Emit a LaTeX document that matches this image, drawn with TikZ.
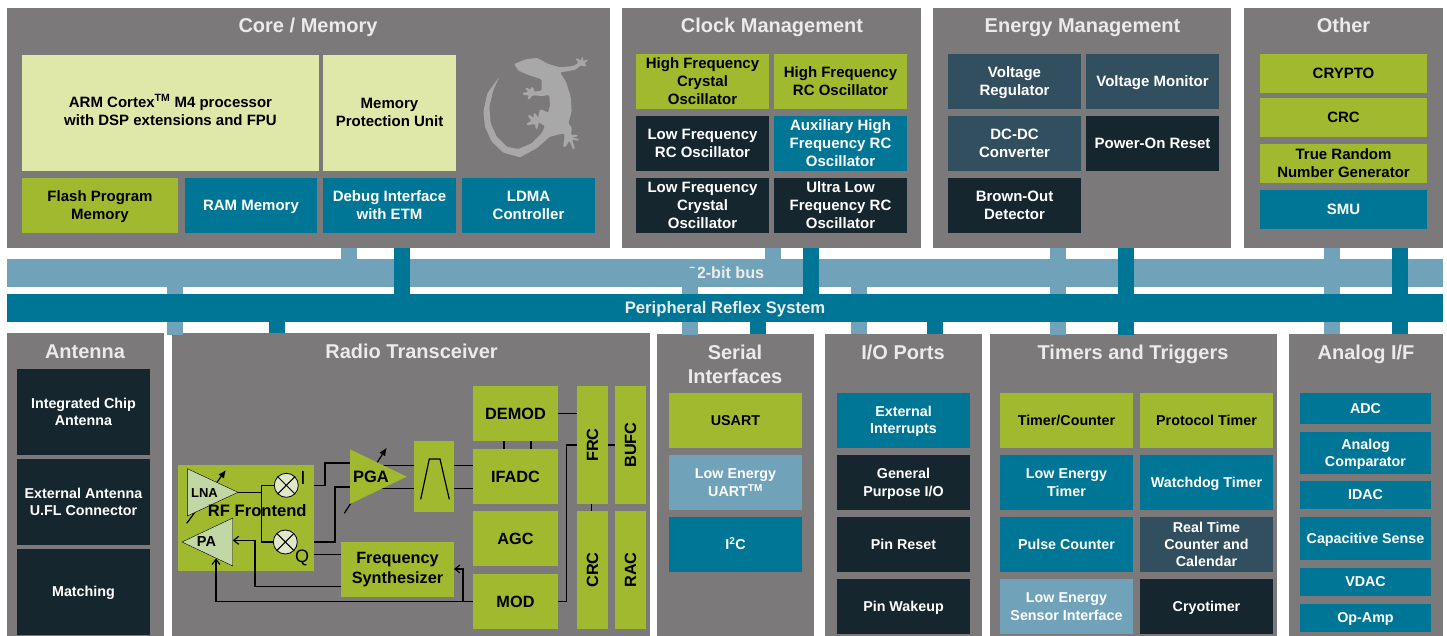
\documentclass[tikz,border=0pt]{standalone}
\usepackage{fontspec}
\setmainfont{Liberation Sans}
\usetikzlibrary{arrows.meta,calc}
\definecolor{panelgrey}{HTML}{7B797A}
\definecolor{olive}{HTML}{A1B92E}
\definecolor{pale}{HTML}{DFE8A9}
\definecolor{teal}{HTML}{007696}
\definecolor{ltblue}{HTML}{70A3B9}
\definecolor{darkb}{HTML}{16262F}
\definecolor{slate}{HTML}{324F5F}
\definecolor{gecko}{HTML}{A8A8A8}
\definecolor{tri}{HTML}{C3D6A5}
\definecolor{mix}{HTML}{DFE8C8}
\def\bxs{15}
\tikzset{
  boxfont/.style={font=\fontsize{\bxs}{18}\selectfont\bfseries,align=center,inner sep=0pt,outer sep=0pt},
  tight/.style={font=\fontsize{\bxs}{17}\selectfont\bfseries},
  panel/.style={fill=panelgrey},
  polive/.style={boxfont,fill=olive,text=black},
  ppale/.style={boxfont,fill=pale,text=black},
  pteal/.style={boxfont,fill=teal,text=white},
  pblue/.style={boxfont,fill=ltblue,text=white},
  pdark/.style={boxfont,fill=darkb,text=white},
  pslate/.style={boxfont,fill=slate,text=white},
  ptext/.style={boxfont,text=black},
  title/.style={font=\fontsize{20}{24}\selectfont\bfseries,text=white!92!black,align=center,inner sep=0pt},
  stubl/.style={ltblue,line width=16pt},
  stubd/.style={teal,line width=16pt},
  wire/.style={black,line width=1.2pt},
  arr/.style={wire,-{Straight Barb[length=5pt,width=8pt]}},
  varr/.style={black,line width=1.2pt,-{Latex[length=8pt,width=7pt]}},
  radiofont/.style={font=\fontsize{16.3}{20}\selectfont\bfseries},
}
\newcommand{\mystrut}{\leavevmode\vrule height .79\baselineskip depth .21\baselineskip width 0pt\relax}
\newcommand{\bx}[7]{%
  \pgfmathsetmacro{\bxw}{#4-#2}\pgfmathsetmacro{\bxh}{#5-#3}%
  \node[#6,minimum width=\bxw pt,minimum height=\bxh pt] (#1) at ({(#2+#4)/2},{(#3+#5)/2}) {\mystrut #7\mystrut};}
\newcommand{\bxn}[7]{%
  \pgfmathsetmacro{\bxw}{#4-#2}\pgfmathsetmacro{\bxh}{#5-#3}%
  \node[#6,minimum width=\bxw pt,minimum height=\bxh pt] (#1) at ({(#2+#4)/2},{(#3+#5)/2}) {#7};}
\newcommand{\pn}[5]{%
  \pgfmathsetmacro{\bxw}{#4-#2}\pgfmathsetmacro{\bxh}{#5-#3}%
  \node[panel,inner sep=0pt,outer sep=0pt,minimum width=\bxw pt,minimum height=\bxh pt] (#1) at ({(#2+#4)/2},{(#3+#5)/2}) {};}
\begin{document}
\begin{tikzpicture}[x=1pt,y=-1pt]
\useasboundingbox (0,0) rectangle (1447,636);
% bars
\bxn{bus}{7}{259}{1443}{286.5}{pblue}{}
\node[title,font=\fontsize{16.2}{18}\selectfont\bfseries,anchor=base] (bustext) at (726,278) {32-bit bus};
% panels
\pn{core}{7}{8}{610}{248}
\pn{clock}{622}{8}{921}{248}
\pn{energy}{933}{8}{1231}{248}
\pn{other}{1244}{8}{1443}{248}
\pn{ant}{7}{333}{164}{636}
\pn{radio}{172}{333}{650}{636}
\pn{serial}{657}{334}{814}{636}
\pn{io}{825}{334}{982}{636}
\pn{timers}{990}{334}{1277}{636}
\pn{analog}{1289}{334}{1443}{636}
% light stubs from top panels to bus
\draw[stubl] (349,0 |- core.south) -- (349,0 |- bus.north);
\draw[stubl] (773,0 |- clock.south) -- (773,0 |- bus.north);
\draw[stubl] (1058,0 |- energy.south) -- (1058,0 |- bus.north);
\draw[stubl] (1332,0 |- other.south) -- (1332,0 |- bus.north);
% light stubs from bus to bottom panels
\draw[stubl] (175,0 |- bus.south) -- (175,335);
\draw[stubl] (690,268) -- (690,335);
\draw[stubl] (859,0 |- bus.south) -- (859,0 |- io.north);
\draw[stubl] (1058,0 |- bus.south) -- (1058,335);
\draw[stubl] (1332,0 |- bus.south) -- (1332,0 |- analog.north);
% peripheral reflex bar over the light stubs
\bxn{prs}{7}{294}{1443}{322}{pteal}{}
% dark stubs
\draw[stubd] (402,0 |- core.south) -- (402,0 |- prs.north);
\draw[stubd] (811,0 |- clock.south) -- (811,0 |- prs.north);
\draw[stubd] (1126,0 |- energy.south) -- (1126,335);
\draw[stubd] (1400,0 |- other.south) -- (1400,0 |- analog.north);
\draw[stubd] (277,0 |- prs.south) -- (277,0 |- radio.north);
\draw[stubd] (758,0 |- prs.south) -- (758,0 |- serial.north);
\draw[stubd] (935,0 |- prs.south) -- (935,0 |- io.north);
\node[title,font=\fontsize{16.7}{18}\selectfont\bfseries,anchor=base] (prstext) at (725,313) {Peripheral Reflex System};
% titles
\tikzset{ttl/.style={title,anchor=base}}
\node[ttl] (t1) at (308,32.5) {Core / Memory};
\node[ttl] (t2) at (772,32.5) {Clock Management};
\node[ttl] (t3) at (1082.5,32.5) {Energy Management};
\node[ttl] (t4) at (1343.5,32.5) {Other};
\node[ttl] (t5) at (85,358) {Antenna};
\node[ttl] (t6) at (411.5,358) {Radio Transceiver};
\node[title] (t7) at (735,364) {Serial\\[0pt]Interfaces};
\node[ttl] (t8) at (903,359) {I/O Ports};
\node[ttl] (t9) at (1133,359) {Timers and Triggers};
\node[ttl] (t10) at (1366,359) {Analog I/F};
% gecko
\begin{scope}[shift={(460,40)},x=0.3333pt,y=-0.3333pt]
\fill[gecko,rounded corners=1.2pt] (162,72) -- (200,57) -- (232,54) -- (265,72) -- (300,82) -- (340,78) -- (356,68)
 -- (346,56) -- (352,54) -- (362,64) -- (366,50) -- (370,52) -- (368,64) -- (382,58) -- (384,62) -- (372,70) -- (380,76) -- (378,80) -- (362,76)
 -- (345,90) -- (300,97) -- (318,125) -- (332,170) -- (335,215) -- (325,250) -- (335,262) -- (335,275) -- (332,285)
 -- (352,284) -- (354,289) -- (336,292) -- (358,298) -- (356,303) -- (336,298) -- (345,326) -- (340,330) -- (328,302) -- (316,322) -- (309,320) -- (314,290) -- (312,280)
 -- (270,290) -- (230,325) -- (180,352) -- (130,338) -- (95,305) -- (75,260) -- (70,215) -- (82,160) -- (118,110)
 -- (100,150) -- (88,200) -- (92,250) -- (110,290) -- (140,320) -- (175,327) -- (215,310) -- (245,280) -- (255,258)
 -- (236,247) -- (232,268) -- (226,266) -- (226,252) -- (200,256) -- (199,250) -- (215,243) -- (203,228) -- (207,224) -- (222,234) -- (220,220) -- (226,219) -- (234,234) -- (240,207) -- (265,218) -- (270,195) -- (268,165)
 -- (245,168) -- (218,166) -- (206,180) -- (201,176) -- (208,167) -- (188,164) -- (188,158) -- (206,156) -- (195,146) -- (199,142) -- (212,150) -- (214,140) -- (220,141) -- (222,155) -- (245,152) -- (245,118) -- (205,105) -- (175,92) -- cycle;
\end{scope}
% core
\bxn{arm}{22}{55}{319}{171}{ppale}{}
\node[ptext] (armtext) at (170.5,111) {\mystrut ARM Cortex\smash{\textsuperscript{TM}} M4 processor\\with DSP extensions and FPU\mystrut};
\bxn{mpu}{323}{55}{456}{171}{ppale}{}
\node[ptext] (mputext) at (389.5,112) {\mystrut Memory\\Protection Unit\mystrut};
\bx{flash}{22}{178}{178}{233}{polive}{Flash Program\\Memory}
\bx{ram}{185}{178}{317}{233}{pteal}{RAM Memory}
\bx{dbg}{323}{178}{456}{233}{pteal}{Debug Interface\\with ETM}
\bx{ldma}{462}{178}{595}{233}{pteal}{LDMA\\Controller}
% clock
\bx{hfxo}{636}{54}{769}{109}{polive}{High Frequency\\Crystal\\Oscillator}
\bx{hfrc}{774}{54}{907}{109}{polive}{High Frequency\\RC Oscillator}
\bx{lfrc}{636}{116}{769}{171}{pdark}{Low Frequency\\RC Oscillator}
\bx{aux}{774}{116}{907}{171}{pteal}{Auxiliary High\\Frequency RC\\Oscillator}
\bx{lfxo}{636}{178}{769}{233}{pdark}{Low Frequency\\Crystal\\Oscillator}
\bx{ulf}{774}{178}{907}{233}{pdark}{Ultra Low\\Frequency RC\\Oscillator}
% energy
\bx{vreg}{948}{54}{1081}{109}{pslate}{Voltage\\Regulator}
\bx{vmon}{1086}{54}{1219}{109}{pslate}{Voltage Monitor}
\bx{dcdc}{948}{116}{1081}{171}{pslate}{DC-DC\\Converter}
\bx{por}{1086}{116}{1219}{171}{pdark}{Power-On Reset}
\bx{bod}{948}{178}{1081}{233}{pdark}{Brown-Out\\Detector}
% other
\bx{crypto}{1260}{54}{1427}{93}{polive}{CRYPTO}
\bx{crc0}{1260}{98}{1427}{137}{polive}{CRC}
\bx{trng}{1260}{144}{1427}{183}{polive}{True Random\\Number Generator}
\bx{smu}{1260}{190}{1427}{229}{pteal}{SMU}
\def\bxs{14.3}
% antenna
\bx{ica}{17}{369}{150}{455}{pdark,tight}{Integrated Chip\\Antenna}
\bx{eau}{17}{459}{150}{545}{pdark,tight}{External Antenna\\U.FL Connector}
\bx{mat}{17}{549}{150}{635}{pdark,tight}{Matching}
% serial
\bx{usart}{669}{393}{802}{448}{polive}{USART}
\bx{leuart}{669}{455}{802}{510}{pblue}{Low Energy\\UART\smash{\textsuperscript{TM}}}
\bx{iic}{669}{517}{802}{572}{pteal}{I\smash{\textsuperscript{2}}C}
% io
\bx{extint}{837}{393}{970}{448}{pteal,tight}{External\\Interrupts}
\bx{gpio}{837}{455}{970}{510}{pdark}{General\\Purpose I/O}
\bx{pinrst}{837}{517}{970}{572}{pdark}{Pin Reset}
\bx{pinwk}{837}{579}{970}{634}{pdark}{Pin Wakeup}
% timers
\bx{tc}{1000}{393}{1133}{448}{polive}{Timer/Counter}
\bx{pt}{1140}{393}{1273}{448}{polive}{Protocol Timer}
\bx{let}{1000}{455}{1133}{510}{pteal}{Low Energy\\Timer}
\bx{wd}{1140}{455}{1273}{510}{pteal}{Watchdog Timer}
\bx{pc}{1000}{517}{1133}{572}{pteal}{Pulse Counter}
\bx{rtcc}{1140}{517}{1273}{572}{pslate,tight}{Real Time\\Counter and\\Calendar}
\bx{lesense}{1000}{579}{1133}{634}{pblue}{Low Energy\\Sensor Interface}
\bx{cryo}{1140}{579}{1273}{634}{pdark}{Cryotimer}
% analog
\bx{adc}{1300}{393}{1431}{424}{pteal}{ADC}
\bx{acmp}{1300}{432}{1431}{474}{pteal,tight}{Analog\\Comparator}
\bx{idac}{1300}{481}{1431}{509}{pteal,tight}{IDAC}
\bx{cap}{1300}{517}{1431}{560}{pteal}{Capacitive Sense}
\bx{vdac}{1300}{568}{1431}{596}{pteal,tight}{VDAC}
\bx{opamp}{1300}{604}{1431}{632}{pteal,tight}{Op-Amp}
% radio blocks
\bxn{rf}{178}{465}{314}{571}{polive}{}
\bxn{filt}{414}{441}{454}{512}{polive}{}
\bxn{synth}{341}{542}{454}{597}{polive}{}
\node[ptext,radiofont] (synthtext) at (397.5,567.7) {\mystrut Frequency\\Synthesizer\mystrut};
\bx{demod}{473}{386}{558}{441}{polive,radiofont}{DEMOD}
\bx{ifadc}{473}{449}{558}{504}{polive,radiofont}{IFADC}
\bx{agc}{473}{511}{558}{566}{polive,radiofont}{AGC}
\bx{mod}{473}{574}{558}{629}{polive,radiofont}{MOD}
\bxn{frc}{577}{386}{608}{504}{polive,radiofont}{\rotatebox{90}{FRC}}
\bxn{bufc}{615}{386}{646}{504}{polive,radiofont}{\rotatebox{90}{BUFC}}
\bxn{crc}{577}{511}{608}{629}{polive,radiofont}{\rotatebox{90}{CRC}}
\bxn{rac}{615}{511}{646}{629}{polive,radiofont}{\rotatebox{90}{RAC}}
% radio wires
\draw[wire] (504,0 |- ifadc.north) -- (504,0 |- demod.south);
\draw[wire] (531,0 |- ifadc.north) -- (531,0 |- demod.south);
\draw[wire] (demod.east) -- (demod.east -| frc.west);
\draw[wire] ($(frc.south)+(-1,0)$) -- ($(crc.north)+(-1,0)$);
\coordinate (frcin) at (577,445);
\draw[wire] (frcin -| frc.east) -- (frcin -| bufc.west);
\coordinate (modr) at (558,601.5);
\coordinate (modl) at (473,601.5);
\draw[wire] (modr) -- (566.5,601.5) -- (566.5,445) -- (frcin);
\draw[arr] (modl) -| (216,558.5);
\draw[arr] (463,601.5) |- (synth.east |- 0,569);
\coordinate (lnaout) at (238,492.3);
\draw[wire] (rf.east |- 0,485.3) -- (325,485.3) -- (325,463) -- (350,463);
\draw[wire] (rf.east |- 0,542) -- (335,542) -- (335,487) -- (350,487);
\draw[wire] (rf.east |- 0,554.7) -- (synth.west |- 0,554.7);
\draw[arr] (synth.west |- 0,586.7) -| (255,540.3) -- (232.7,540.3);
\draw[wire] (375,465.3) -- (filt.west |- 0,465.3);
\draw[wire] (375,488.7) -- (filt.west |- 0,488.7);
\draw[wire] (filt.east |- 0,465.3) -- (ifadc.west |- 0,465.3);
\draw[wire] (filt.east |- 0,488.7) -- (ifadc.west |- 0,488.7);
% filter symbol
\draw[wire] (420.7,499.3) -- (429.3,459) -- (440,459) -- (449.3,499.3);
% variable-gain arrows behind triangles
\draw[varr] (186.7,523.3) -- (226,470);
\draw[varr] (344.3,513.3) -- (386.7,447.7);
% triangles
\fill[olive] (350,449.3) -- (350,504) -- (406.7,476.7) -- cycle;
\fill[tri] (187.3,468.7) -- (187.3,516) -- (238,492.3) -- cycle;
\fill[tri] (232.7,518) -- (232.7,566) -- (182,542) -- cycle;
\draw[black,line width=0.4pt] (187.3,468.7) -- (187.3,516) -- (238,492.3) -- cycle;
\draw[black,line width=0.4pt] (232.7,518) -- (232.7,566) -- (182,542) -- cycle;
\node[ptext,font=\fontsize{16.5}{21}\selectfont\bfseries] (pga) at (371,477) {PGA};
\node[ptext,font=\fontsize{13}{16}\selectfont\bfseries] (lna) at (204.5,493) {LNA};
\node[ptext,font=\fontsize{14.5}{16}\selectfont\bfseries] (pa) at (206.5,542) {PA};
% mixers
\foreach \nm/\cx/\cy in {mixi/286.3/485.3,mixq/285.3/542}{
  \node[circle,draw=black,fill=mix,line width=0.8pt,minimum size=24pt,inner sep=0pt] (\nm) at (\cx,\cy) {};
  \draw[black,line width=1pt] (\nm.north west) -- (\nm.south east) (\nm.north east) -- (\nm.south west);
}
\draw[wire] (lnaout) -- (261.3,492.3);
\draw[wire] (261.3,485.3) -- (261.3,542);
\draw[wire] (261.3,485.3) -- (mixi.west);
\draw[wire] (261.3,542) -- (mixq.west);
\node[ptext,font=\fontsize{19}{21}\selectfont] (ilabel) at (303,478) {I};
\node[ptext,font=\fontsize{18}{21}\selectfont] (qlabel) at (302,558) {Q};
\node[ptext,font=\fontsize{16.6}{21}\selectfont\bfseries] (rftext) at (257.3,511) {RF Frontend};
\end{tikzpicture}
\end{document}
